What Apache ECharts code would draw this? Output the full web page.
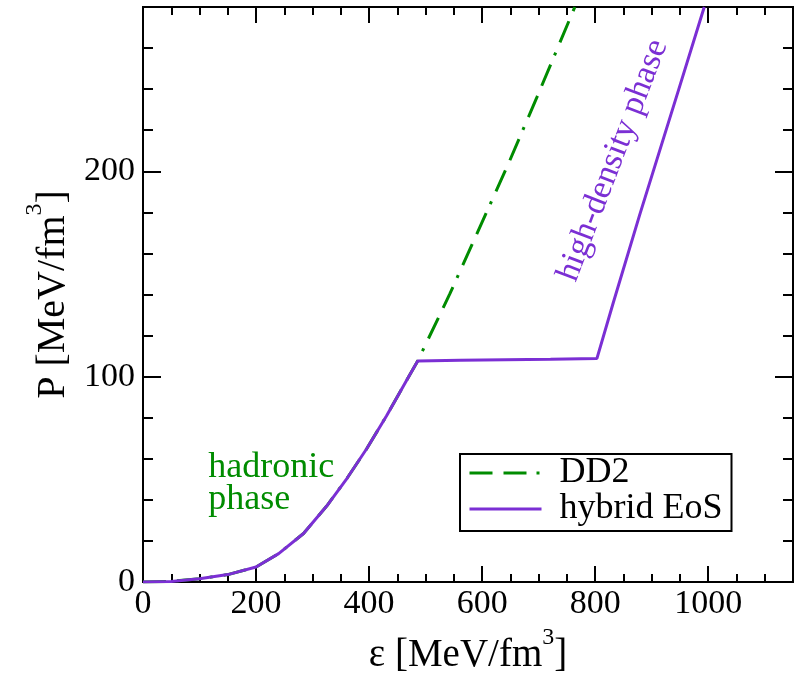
<!DOCTYPE html>
<html><head><meta charset="utf-8">
<script src="https://cdn.jsdelivr.net/npm/echarts@6/dist/echarts.min.js"></script>
<style>html,body{margin:0;padding:0;background:#fff}#c{width:799px;height:673px}</style>
</head><body><div id="c"></div>
<script>
// shared hadronic branch (both curves coincide here)
const hadronicEps = [0, 50, 100, 150, 200, 240, 284, 325, 361, 396, 431, 467];
const hadronicP   = [0, 0.3, 1.6, 3.6, 7.3, 13.8, 23.6, 37, 50.5, 65, 81, 98.5];
// DD2 continuation
const dd2Eps = [486, 543, 596, 649, 697, 764];
const dd2P   = [107.6, 140.4, 172.8, 205.3, 236.1, 280];
// hybrid EoS continuation (plateau + high-density phase)
const hybridEps = [486, 561, 721, 803, 832, 879, 948, 993];
const hybridP   = [107.6, 108, 108.5, 108.8, 136, 179, 240, 280];
// tick labels
const xTickLabels = [0, 200, 400, 600, 800, 1000];
const yTickLabels = [0, 100, 200];
const seriesNames = ['DD2', 'hybrid EoS'];
// annotation anchors in data coordinates
const hadronicLabel = {text: 'hadronic\nphase', eps: 115.5, p: 48};
const highLabel = {text: 'high-density phase', eps: 831.5, p: 205.3, angle: 69};

const FONT = 'Liberation Serif';
const GREEN = '#008c00';
const PURPLE = '#7b2fd4';

const pairs = (xs, ys) => xs.map((x, i) => [x, ys[i]]);
const dd2Data = pairs(hadronicEps, hadronicP).concat(pairs(dd2Eps, dd2P));
const hybridData = pairs(hadronicEps, hadronicP).concat(pairs(hybridEps, hybridP));

const chart = echarts.init(document.getElementById('c'), null, {renderer: 'canvas'});

function richSet(size) {
  return {
    t: {fontSize: size, fontFamily: FONT, color: '#000', padding: [10, 0, 0, 0]},
    s: {fontSize: 24, fontFamily: FONT, color: '#000', verticalAlign: 'top'}
  };
}

function xAx(pos, interval, len, labels) {
  return {
    type: 'value', position: pos, min: 0, max: 1150, interval: interval,
    axisLine: {show: true, onZero: false, lineStyle: {color: '#000', width: 2}},
    axisTick: {show: true, inside: true, length: len, lineStyle: {color: '#000', width: 2}},
    axisLabel: labels ? {
      show: true, fontSize: 34, fontFamily: FONT, color: '#000', margin: 5,
      formatter: v => xTickLabels.includes(v) ? String(v) : ''
    } : {show: false},
    splitLine: {show: false}
  };
}
function yAx(pos, interval, len, labels) {
  return {
    type: 'value', position: pos, min: 0, max: 280, interval: interval,
    axisLine: {show: true, onZero: false, lineStyle: {color: '#000', width: 2}},
    axisTick: {show: true, inside: true, length: len, lineStyle: {color: '#000', width: 2}},
    axisLabel: labels ? {
      show: true, fontSize: 34, fontFamily: FONT, color: '#000', margin: 8,
      formatter: v => yTickLabels.includes(v) ? String(v) : ''
    } : {show: false},
    splitLine: {show: false}
  };
}

const xMain = xAx('bottom', 200, 16, true);
xMain.name = '{t|ε [MeV/fm}{s|3}{t|]}';
xMain.nameLocation = 'middle';
xMain.nameGap = 33;
xMain.nameTextStyle = {rich: richSet(39)};
const yMain = yAx('left', 100, 18, true);
yMain.name = '{t|P [MeV/fm}{s|3}{t|]}';
yMain.nameLocation = 'middle';
yMain.nameRotate = 90;
yMain.nameGap = 58;
yMain.nameTextStyle = {rich: richSet(40)};

chart.setOption({
  animation: false,
  backgroundColor: '#fff',
  grid: {left: 143, right: 6, top: 7, bottom: 91, containLabel: false, outerBoundsMode: 'none'},
  xAxis: [xMain, xAx('bottom', 50, 8, false), xAx('top', 200, 16, false), xAx('top', 50, 8, false)],
  yAxis: [yMain, yAx('left', 20, 10, false), yAx('right', 100, 18, false), yAx('right', 20, 10, false)],
  legend: {
    data: seriesNames,
    orient: 'vertical',
    left: 460, top: 454,
    itemWidth: 72, itemHeight: 14, itemGap: 0,
    padding: [1, 9, 4, 8],
    borderColor: '#000', borderWidth: 2,
    backgroundColor: '#fff',
    itemStyle: {opacity: 0},
    lineStyle: {width: 3},
    textStyle: {fontSize: 36, fontFamily: FONT, color: '#000', lineHeight: 36, padding: [0, 0, 0, 13]}
  },
  series: [
    {
      name: seriesNames[0], type: 'line', data: dd2Data, xAxisIndex: 0, yAxisIndex: 0,
      symbol: 'none', showSymbol: false, smooth: false,
      lineStyle: {color: GREEN, width: 3, type: [23, 11, 23, 10, 3, 11]},
      itemStyle: {color: GREEN}
    },
    {
      name: seriesNames[1], type: 'line', data: hybridData, xAxisIndex: 0, yAxisIndex: 0,
      symbol: 'none', showSymbol: false, smooth: false,
      lineStyle: {color: PURPLE, width: 3, type: 'solid'},
      itemStyle: {color: PURPLE}
    }
  ]
});

const a = chart.convertToPixel({seriesIndex: 0}, [hadronicLabel.eps, hadronicLabel.p]);
const b = chart.convertToPixel({seriesIndex: 0}, [highLabel.eps, highLabel.p]);
chart.setOption({
  graphic: [
    {type: 'text', x: a[0], y: a[1], style: {text: hadronicLabel.text, fill: GREEN, font: '36px "Liberation Serif"', align: 'left', verticalAlign: 'middle', lineHeight: 32}},
    {type: 'text', x: b[0], y: b[1], rotation: highLabel.angle * Math.PI / 180, style: {text: highLabel.text, fill: PURPLE, font: '34px "Liberation Serif"', align: 'center', verticalAlign: 'middle'}}
  ]
});
</script>
</body></html>
